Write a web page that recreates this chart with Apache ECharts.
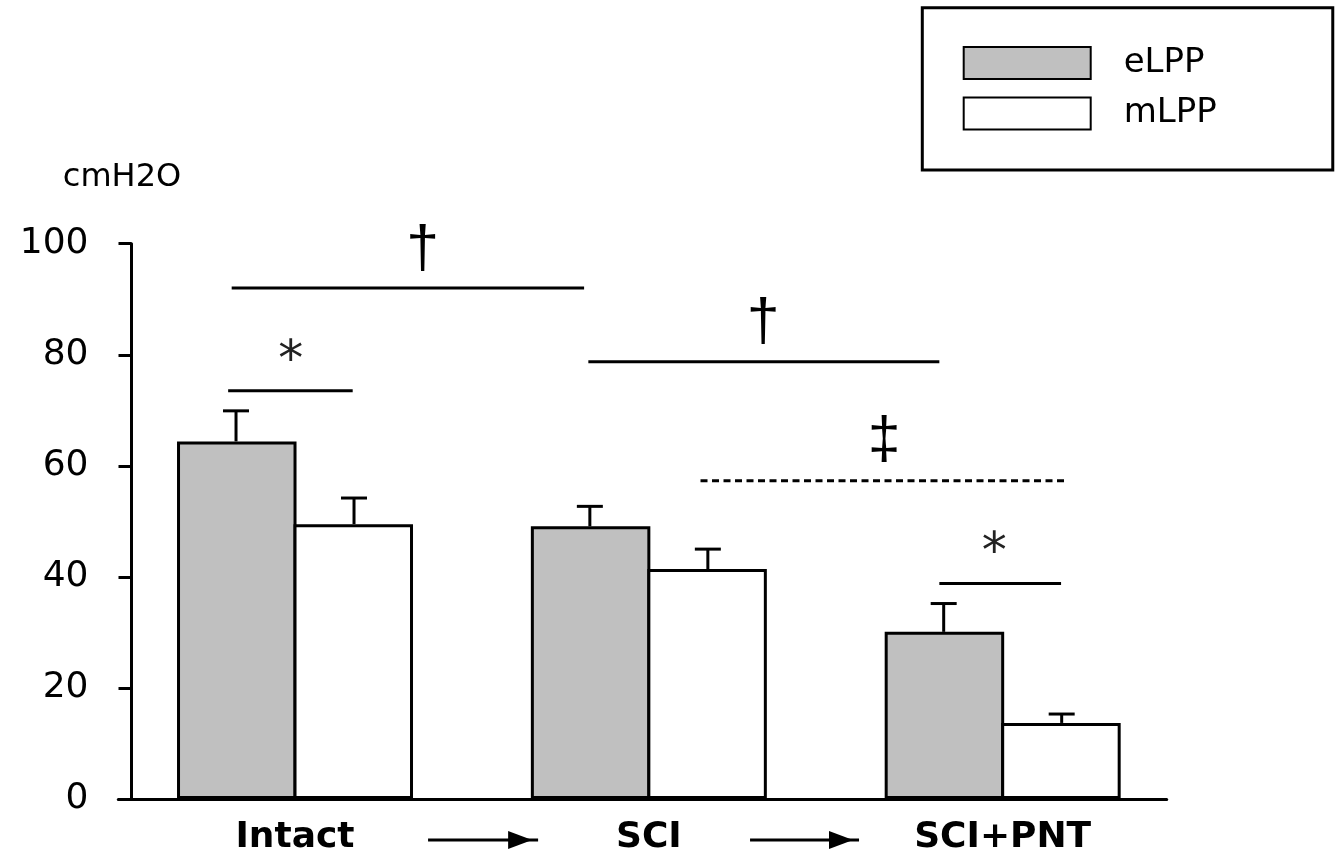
<!DOCTYPE html>
<html>
<head>
<meta charset="utf-8">
<script src="https://cdn.jsdelivr.net/npm/echarts@6/dist/echarts.min.js"></script>
<style>
html,body{margin:0;padding:0;background:#fff;}
#chart{width:1339px;height:856px;}
</style>
</head>
<body>
<div id="chart"></div>
<script>
// ---- data ----
const categories = ['Intact', 'SCI', 'SCI+PNT'];
const eLPP = [64.4, 49.1, 30.1];
const mLPP = [49.5, 41.4, 13.7];
const eLPPErr = [5.5, 3.6, 5.1];
const mLPPErr = [4.7, 3.6, 1.6];
const yMin = 0, yMax = 100, yStep = 20;
// significance lines: [from, to] in category units (0 = Intact centre), y value, dashed flag
const sigLines = [
  [-0.179, 0.817, 92.0, 0],
  [-0.189, 0.163, 73.5, 0],
  [0.829, 1.821, 78.75, 0],
  [1.146, 2.176, 57.3, 1],
  [1.821, 2.165, 38.8, 0]
];
// significance marks: category position, y value (glyph centre), symbol
const sigMarks = [
  [0.361, 99.5, '†'],
  [-0.012, 80.4, '*'],
  [1.323, 86.3, '†'],
  [1.665, 64.85, '‡'],
  [1.976, 45.8, '*']
];
// arrows between groups: from, to (category units), y value
const arrows = [
  [0.376, 0.687, -7.4],
  [1.286, 1.594, -7.4]
];

// ---- styling ----
const CAT_W = 353.85;          // px width of one category band
const BAR_W = 119.5;           // px bar layout width (border drawn inside)
const BAR_GAP = -3;            // px overlap so neighbouring borders coincide
const FONT = '"DejaVu Sans", sans-serif';
const markStyle = {
  '†': {font: '59px "Liberation Sans", Arial, sans-serif', dy: 4},
  '‡': {font: '59px "Liberation Sans", Arial, sans-serif', dy: 3},
  '*': {font: '50px "DejaVu Sans", sans-serif', dy: 9}
};

function errorRender(errs, side) {
  return function (params, api) {
    const i = api.value(0);
    const v = api.value(1);
    const e = errs[params.dataIndex];
    const w = api.size([1, 0])[0];
    const base = api.coord([i, v]);
    const top = api.coord([i, v + e]);
    const off = (2 * BAR_W + BAR_GAP) / 4 / CAT_W;
    const x = base[0] + side * w * off;
    const st = {stroke: '#000', lineWidth: 3};
    return {
      type: 'group',
      children: [
        {type: 'line', shape: {x1: x, y1: base[1], x2: x, y2: top[1]}, style: st},
        {type: 'line', shape: {x1: x - 13, y1: top[1], x2: x + 13, y2: top[1]}, style: st}
      ]
    };
  };
}

const barWidthPct = (BAR_W / CAT_W * 100) + '%';
const barGapPct = (BAR_GAP / BAR_W * 100) + '%';

const chart = echarts.init(document.getElementById('chart'), null, {renderer: 'canvas'});
const option = {
  animation: false,
  backgroundColor: '#fff',
  grid: [
    {left: 118.1, top: 243.7, width: 1061.5, bottom: 57},
    {left: 118.3, top: 243.7, width: 1048.4, bottom: 57}
  ],
  legend: {
    data: ['eLPP', 'mLPP'],
    orient: 'vertical',
    left: 922.3,
    top: 7.7,
    padding: [38.3, 116, 39.5, 40.4],
    itemWidth: 127,
    itemHeight: 32,
    itemGap: 16.5,
    borderColor: '#000',
    borderWidth: 3,
    icon: 'rect',
    textStyle: {fontSize: 34, fontFamily: FONT, color: '#000', padding: [0, 0, 0, 28]}
  },
  xAxis: [
    {
      type: 'category',
      gridIndex: 0,
      data: categories,
      axisLine: {show: false},
      axisTick: {show: false},
      axisLabel: {fontSize: 36, fontWeight: 'bold', fontFamily: FONT, color: '#000', margin: 21}
    },
    {
      type: 'value',
      gridIndex: 1,
      min: 0, max: 1,
      axisLine: {show: true, lineStyle: {color: '#000', width: 3}},
      axisTick: {show: false},
      axisLabel: {show: false},
      splitLine: {show: false}
    }
  ],
  yAxis: [
    {
      type: 'value',
      gridIndex: 0,
      min: yMin, max: yMax, interval: yStep,
      offset: -13.4,
      name: 'cmH2O',
      nameLocation: 'end',
      nameGap: 66,
      nameTextStyle: {fontSize: 32, fontFamily: FONT, color: '#000', align: 'center', verticalAlign: 'middle', padding: [0, 19, 0, 0]},
      axisLine: {show: true, lineStyle: {color: '#000', width: 3}},
      axisTick: {show: true, length: 13, lineStyle: {color: '#000', width: 3}},
      axisLabel: {fontSize: 36, fontFamily: FONT, color: '#000', margin: 43},
      splitLine: {show: false}
    },
    {type: 'value', gridIndex: 1, show: false, min: 0, max: 1}
  ],
  series: [
    {
      name: 'eLPP', type: 'bar', data: eLPP,
      barWidth: barWidthPct, barGap: barGapPct,
      itemStyle: {color: '#c0c0c0', borderColor: '#000', borderWidth: 3}
    },
    {
      name: 'mLPP', type: 'bar', data: mLPP,
      barWidth: barWidthPct, barGap: barGapPct,
      itemStyle: {color: '#ffffff', borderColor: '#000', borderWidth: 3}
    },
    {
      type: 'custom', clip: false, z: 1,
      data: categories.map((c, i) => [i, eLPP[i]]),
      renderItem: errorRender(eLPPErr, -1)
    },
    {
      type: 'custom', clip: false, z: 1,
      data: categories.map((c, i) => [i, mLPP[i]]),
      renderItem: errorRender(mLPPErr, 1)
    },
    {
      type: 'custom', clip: false,
      data: sigLines.map(l => [0, l[2]]),
      renderItem: function (params, api) {
        const l = sigLines[params.dataIndex];
        const w = api.size([1, 0])[0];
        const x0 = api.coord([0, 0])[0];
        const y = api.coord([0, l[2]])[1];
        return {
          type: 'line',
          shape: {x1: x0 + l[0] * w, y1: y, x2: x0 + l[1] * w, y2: y},
          style: {stroke: '#000', lineWidth: 3, lineDash: l[3] ? [7, 4.5] : null}
        };
      }
    },
    {
      type: 'custom', clip: false,
      data: sigMarks.map(m => [0, m[1]]),
      renderItem: function (params, api) {
        const m = sigMarks[params.dataIndex];
        const w = api.size([1, 0])[0];
        const x0 = api.coord([0, 0])[0];
        const y = api.coord([0, m[1]])[1];
        const ms = markStyle[m[2]];
        return {
          type: 'text',
          x: x0 + m[0] * w,
          y: y + ms.dy,
          style: {
            text: m[2], font: ms.font, fill: m[2] === '*' ? '#222' : '#000',
            align: 'center', verticalAlign: 'middle',
            textAlign: 'center', textVerticalAlign: 'middle'
          }
        };
      }
    },
    {
      type: 'custom', clip: false,
      data: arrows.map(a => [0, a[2]]),
      renderItem: function (params, api) {
        const a = arrows[params.dataIndex];
        const w = api.size([1, 0])[0];
        const x0 = api.coord([0, 0])[0];
        const y = api.coord([0, a[2]])[1];
        const xa = x0 + a[0] * w, xb = x0 + a[1] * w;
        const headL = 24, headH = 9;
        return {
          type: 'group',
          children: [
            {type: 'line', shape: {x1: xa, y1: y, x2: xb, y2: y}, style: {stroke: '#000', lineWidth: 3}},
            {type: 'polygon', shape: {points: [[xb - 6 - headL, y - headH], [xb - 6, y], [xb - 6 - headL, y + headH]]}, style: {fill: '#000'}}
          ]
        };
      }
    }
  ]
};
chart.setOption(option);
</script>
</body>
</html>
